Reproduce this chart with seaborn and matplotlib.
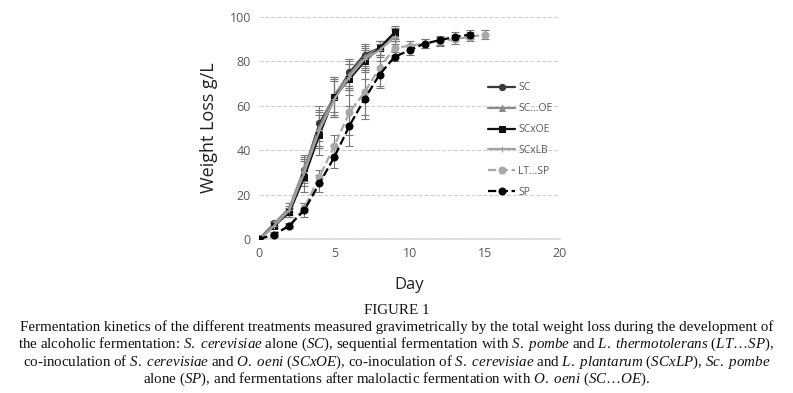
import numpy as np
import seaborn as sns
import matplotlib.pyplot as plt

# values (weight loss g/L per day)
days_sc = [0, 1, 2, 3, 4, 5, 6, 7, 8, 9]
sc = [0, 7, 12, 31, 52, 64, 75, 83, 86, 92]
sc_oe = [0, 7, 14, 32, 50, 65, 74, 82, 86, 92]
scx_oe = [0, 6, 12, 28, 47, 64, 72, 80, 86, 93]
scx_lb = [0, 6, 13, 30, 49, 63, 73, 81, 85, 91]
err_sc = [0, 1, 2, 6, 8, 8, 6, 5, 3, 3]
err_scx = [0, 1, 2, 7, 9, 9, 7, 5, 3, 3]

days_lt = list(range(16))
lt_sp = [0, 2, 6, 14, 28, 42, 57, 66, 77, 86, 87, 88, 89, 90, 91, 92]
err_lt = [0, 1, 1, 2, 3, 5, 10, 10, 8, 3, 2, 2, 2, 2, 2, 2]

days_sp = list(range(15))
sp = [0, 2, 6, 13, 25, 37, 51, 63, 74, 82, 85, 88, 89.5, 91, 92]
err_sp = [0, 1, 1, 3, 4, 5, 9, 9, 6, 2, 2, 2, 2, 2, 2]

labels = ["SC", "SC...OE", "SCxOE", "SCxLB", "LT...SP", "SP"]

sns.set_theme(style="white")
plt.rcParams["font.family"] = ["Open Sans", "DejaVu Sans"]
plt.rcParams["mathtext.fontset"] = "custom"
plt.rcParams["mathtext.rm"] = "Liberation Serif"
plt.rcParams["mathtext.it"] = "Liberation Serif:italic"

fig = plt.figure(figsize=(7.93, 3.93), dpi=100)
ax = fig.add_axes([0.327, 0.392, 0.379, 0.565])

series = [
    (days_sc, sc, err_sc, "#3a3a3a", "o", "-", 4.5),
    (days_sc, sc_oe, err_sc, "#8c8c8c", "^", "-", 4.5),
    (days_sc, scx_oe, err_scx, "#111111", "s", "-", 4.5),
    (days_sc, scx_lb, err_sc, "#a0a0a0", "+", "-", 5),
    (days_lt, lt_sp, err_lt, "#a8a8a8", "o", "--", 5),
    (days_sp, sp, err_sp, "#000000", "o", "--", 5),
]

for (x, y, e, col, mk, ls, ms), lab in zip(series, labels):
    ax.errorbar(x, y, yerr=e, fmt="none", ecolor="#777777", elinewidth=0.8,
                capsize=3, capthick=0.8, zorder=2)
    sns.lineplot(x=x, y=y, ax=ax, color=col, marker=mk, markersize=ms,
                 linestyle=ls, linewidth=1.6, label=lab, markeredgecolor=col,
                 zorder=3)

ax.set_xlim(0, 20)
ax.set_ylim(0, 100)
ax.set_xticks([0, 5, 10, 15, 20])
ax.set_yticks([0, 20, 40, 60, 80, 100])
ax.yaxis.grid(True, linestyle="--", color="#d0d0d0", linewidth=0.8)
ax.set_axisbelow(True)
for s in ["top", "right", "left"]:
    ax.spines[s].set_visible(False)
ax.spines["bottom"].set_color("#d9d9d9")
ax.spines["bottom"].set_linewidth(1.2)
ax.tick_params(axis="both", colors="#595959", labelsize=9, length=0, pad=6)
ax.set_xlabel("Day", fontsize=12, color="#222222", labelpad=12)
ax.set_ylabel("Weight Loss g/L", fontsize=13, color="#222222", labelpad=8)

leg = ax.legend(loc="center left", bbox_to_anchor=(0.73, 0.445), frameon=False,
                fontsize=7.5, labelcolor="#595959", handlelength=2.6,
                labelspacing=0.95, handletextpad=0.3)

# caption
cap = [
    "FIGURE 1",
    "Fermentation kinetics of the different treatments measured gravimetrically by the total weight loss during the development of",
    r"the alcoholic fermentation: $\mathit{S.\ cerevisiae}$ alone ($\mathit{SC}$), sequential fermentation with $\mathit{S.\ pombe}$ and $\mathit{L.\ thermotolerans}$ ($\mathit{LT…SP}$),",
    r"co-inoculation of $\mathit{S.\ cerevisiae}$ and $\mathit{O.\ oeni}$ ($\mathit{SCxOE}$), co-inoculation of $\mathit{S.\ cerevisiae}$ and $\mathit{L.\ plantarum}$ ($\mathit{SCxLP}$), $\mathit{Sc.\ pombe}$",
    r"alone ($\mathit{SP}$), and fermentations after malolactic fermentation with $\mathit{O.\ oeni}$ ($\mathit{SC…OE}$).",
]
ys = [311, 327, 344.5, 362, 379.5]
for t, yp in zip(cap, ys):
    fig.text(0.5, 1 - yp / 393, t, ha="center", va="center", fontsize=10.8,
             family="Liberation Serif", color="#111111")

fig.savefig("out.png", dpi=100)
